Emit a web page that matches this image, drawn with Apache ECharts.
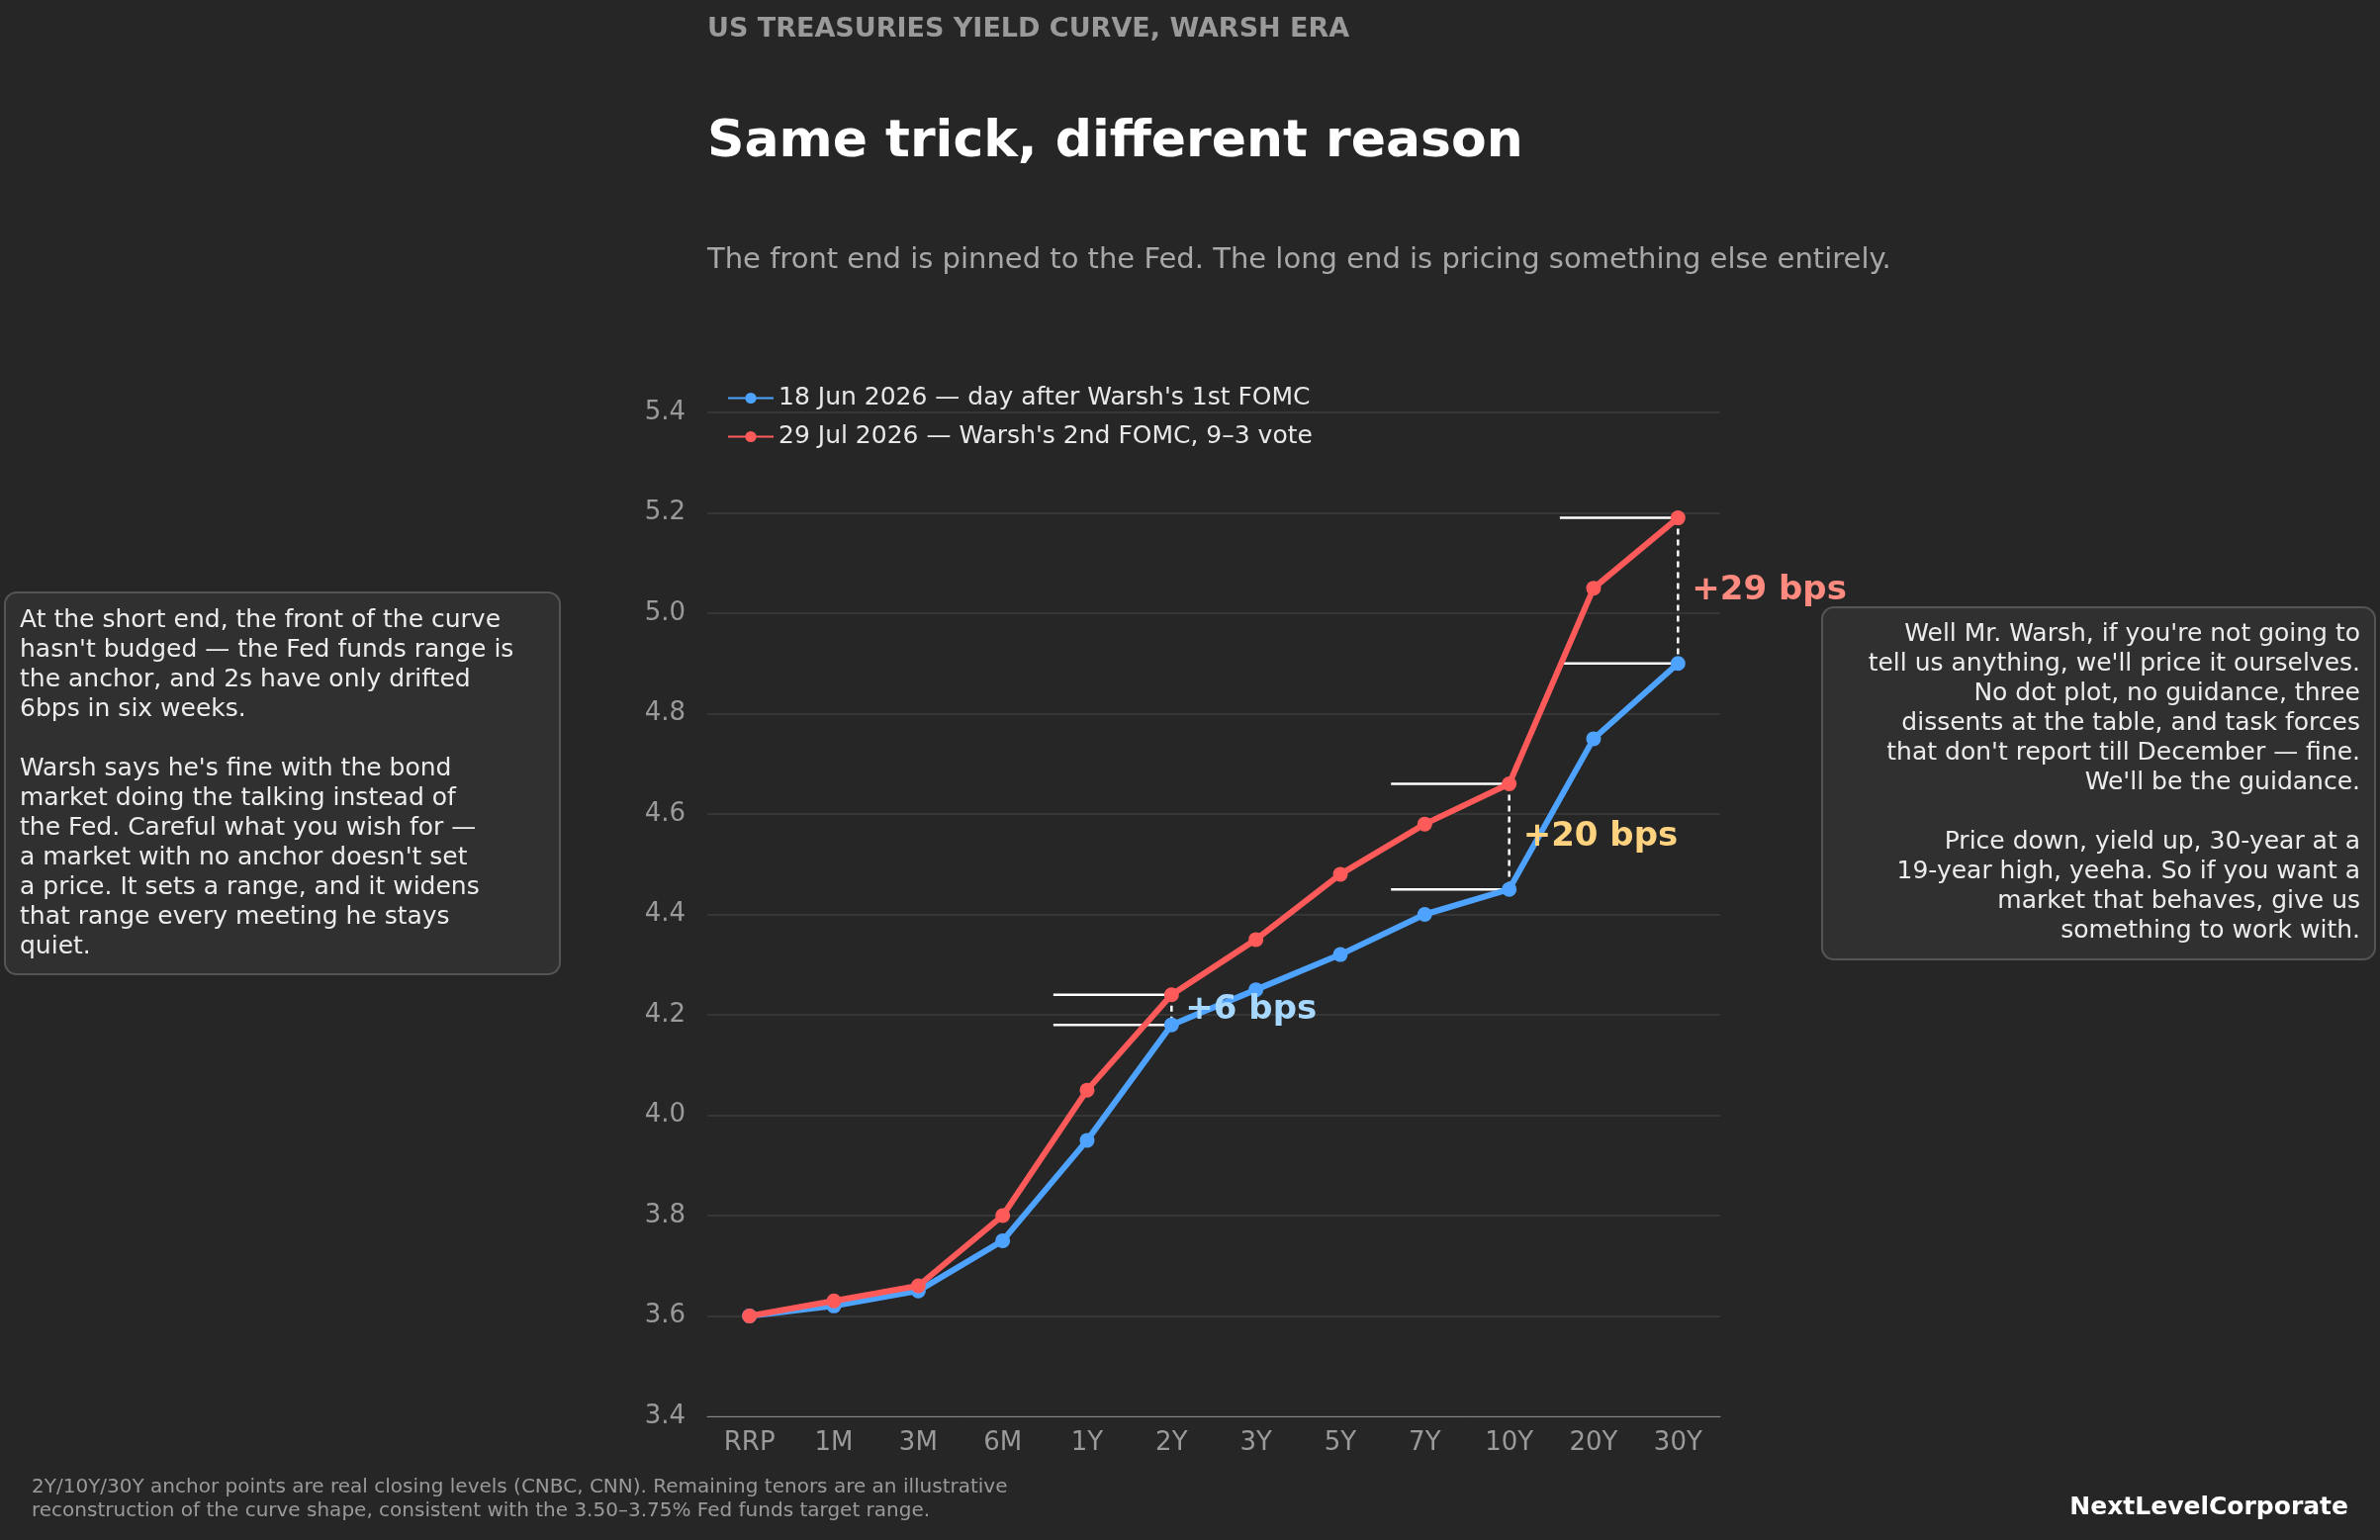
<html>
<head>
<meta charset="utf-8">
<script src="https://cdn.jsdelivr.net/npm/echarts@6/dist/echarts.min.js"></script>
<style>
  html, body { margin: 0; background: #262626; }
  #chart { width: 2406px; height: 1557px; }
</style>
</head>
<body>
<div id="chart"></div>
<script>
var tenors = ['RRP', '1M', '3M', '6M', '1Y', '2Y', '3Y', '5Y', '7Y', '10Y', '20Y', '30Y'];
var june = [3.60, 3.62, 3.65, 3.75, 3.95, 4.18, 4.25, 4.32, 4.40, 4.45, 4.75, 4.90];
var july = [3.60, 3.63, 3.66, 3.80, 4.05, 4.24, 4.35, 4.48, 4.58, 4.66, 5.05, 5.19];
var yTicks = [3.4, 3.6, 3.8, 4.0, 4.2, 4.4, 4.6, 4.8, 5.0, 5.2, 5.4];
// brackets: tenor index, label, colour
var brackets = [
    { idx: 5, text: '+6 bps', color: '#a6d8ff' },
    { idx: 9, text: '+20 bps', color: '#ffd27f' },
    { idx: 11, text: '+29 bps', color: '#ff8a80' }
];

var font = 'DejaVu Sans';
var chart = echarts.init(document.getElementById('chart'));

var leftNote = "At the short end, the front of the curve\nhasn't budged — the Fed funds range is\nthe anchor, and 2s have only drifted\n6bps in six weeks.\n\nWarsh says he's fine with the bond\nmarket doing the talking instead of\nthe Fed. Careful what you wish for —\na market with no anchor doesn't set\na price. It sets a range, and it widens\nthat range every meeting he stays\nquiet.";
var rightNote = "Well Mr. Warsh, if you're not going to\ntell us anything, we'll price it ourselves.\nNo dot plot, no guidance, three\ndissents at the table, and task forces\nthat don't report till December — fine.\nWe'll be the guidance.\n\nPrice down, yield up, 30-year at a\n19-year high, yeeha. So if you want a\nmarket that behaves, give us\nsomething to work with.";

var option = {
    backgroundColor: '#262626',
    animation: false,
    textStyle: { fontFamily: font },
    grid: { left: 715, right: 667, top: 417, bottom: 125 },
    legend: {
        left: 730, top: 385, orient: 'vertical', itemGap: 14,
        itemWidth: 46, itemHeight: 14,
        textStyle: { color: '#e8e8e8', fontSize: 25, fontFamily: font },
        data: ["18 Jun 2026 — day after Warsh's 1st FOMC", "29 Jul 2026 — Warsh's 2nd FOMC, 9–3 vote"]
    },
    xAxis: {
        type: 'category', data: tenors, boundaryGap: true,
        axisLine: { lineStyle: { color: '#888' } },
        axisTick: { show: false },
        axisLabel: { color: '#9a9a9a', fontSize: 26, margin: 14 }
    },
    yAxis: {
        type: 'value', min: 3.4, max: 5.4, interval: 0.2,
        axisLine: { show: false }, axisTick: { show: false },
        splitLine: { lineStyle: { color: '#3c3c3c', width: 1.5 } },
        axisLabel: { color: '#9a9a9a', fontSize: 26, margin: 22,
            formatter: function (v) { return v.toFixed(1); } }
    },
    series: [{
        name: "18 Jun 2026 — day after Warsh's 1st FOMC", type: 'line', data: june,
        symbol: 'circle', symbolSize: 15, z: 3,
        lineStyle: { color: '#4da3ff', width: 6 }, itemStyle: { color: '#4da3ff' }
    }, {
        name: "29 Jul 2026 — Warsh's 2nd FOMC, 9–3 vote", type: 'line', data: july,
        symbol: 'circle', symbolSize: 15, z: 4,
        lineStyle: { color: '#ff5a5a', width: 6 }, itemStyle: { color: '#ff5a5a' }
    }]
};
chart.setOption(option);

var g = [
    { type: 'text', left: 715, top: 16, style: { text: 'US TREASURIES YIELD CURVE, WARSH ERA', fill: '#9a9a9a', font: 'bold 27px "DejaVu Sans"' } },
    { type: 'text', left: 715, top: 118, style: { text: 'Same trick, different reason', fill: '#ffffff', font: 'bold 52px "DejaVu Sans"' } },
    { type: 'text', left: 715, top: 249, style: { text: 'The front end is pinned to the Fed. The long end is pricing something else entirely.', fill: '#a8a8a8', font: '29px "DejaVu Sans"' } },
    { type: 'rect', shape: { x: 5, y: 599, width: 561, height: 386, r: 12 }, style: { fill: '#303030', stroke: '#555', lineWidth: 2 } },
    { type: 'text', x: 20, y: 612, style: { text: leftNote, fill: '#ececec', font: '25px "DejaVu Sans"', lineHeight: 30 } },
    { type: 'rect', shape: { x: 1842, y: 614, width: 559, height: 356, r: 12 }, style: { fill: '#303030', stroke: '#555', lineWidth: 2 } },
    { type: 'text', x: 2386, y: 626, style: { text: rightNote, fill: '#ececec', font: '25px "DejaVu Sans"', lineHeight: 30, align: 'right' } },
    { type: 'text', x: 32, y: 1492, style: { text: '2Y/10Y/30Y anchor points are real closing levels (CNBC, CNN). Remaining tenors are an illustrative\nreconstruction of the curve shape, consistent with the 3.50–3.75% Fed funds target range.', fill: '#9a9a9a', font: '20px "DejaVu Sans"', lineHeight: 24 } },
    { type: 'text', x: 2374, y: 1512, style: { text: 'NextLevelCorporate', fill: '#ffffff', font: 'bold 25px "DejaVu Sans"', align: 'right' } }
];

brackets.forEach(function (b) {
    var hi = chart.convertToPixel({ seriesIndex: 1 }, [b.idx, july[b.idx]]);
    var lo = chart.convertToPixel({ seriesIndex: 0 }, [b.idx, june[b.idx]]);
    var left = chart.convertToPixel({ seriesIndex: 0 }, [b.idx - 1, june[b.idx]])[0];
    var lx = hi[0] - (hi[0] - left) * 1.4;
    g.push({ type: 'line', z: 1, shape: { x1: lx, y1: hi[1], x2: hi[0], y2: hi[1] }, style: { stroke: '#fff', lineWidth: 2.5 } });
    g.push({ type: 'line', z: 1, shape: { x1: lx, y1: lo[1], x2: lo[0], y2: lo[1] }, style: { stroke: '#fff', lineWidth: 2.5 } });
    g.push({ type: 'line', z: 1, shape: { x1: hi[0], y1: hi[1], x2: lo[0], y2: lo[1] }, style: { stroke: '#fff', lineWidth: 2.5, lineDash: [6, 5] } });
    g.push({ type: 'text', z: 10, x: hi[0] + 14, y: (hi[1] + lo[1]) / 2, style: { text: b.text, fill: b.color, font: 'bold 34px "DejaVu Sans"', verticalAlign: 'middle' } });
});
chart.setOption({ graphic: g });
</script>
</body>
</html>
